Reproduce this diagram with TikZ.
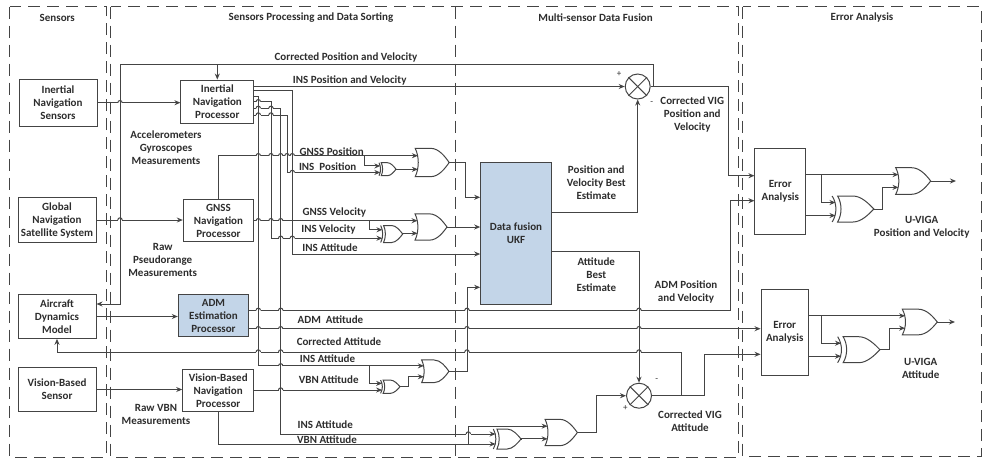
\documentclass[tikz,border=0pt]{standalone}
\usepackage{fontspec}
\setmainfont{Carlito}
\usepackage{xcolor}
\usepackage{tikz}
\usetikzlibrary{arrows.meta}
\definecolor{linegray}{RGB}{68,68,68}
\definecolor{textdark}{RGB}{45,45,45}
\definecolor{fusionblue}{RGB}{195,213,232}
\newcommand{\labelfont}{\fontsize{11}{13}\selectfont\bfseries}
\tikzset{
  panel/.style={draw=linegray, line width=1pt, dash pattern=on 12pt off 7pt},
  wire/.style={draw=linegray, line width=1pt},
  blockbox/.style={draw=linegray, line width=1pt, align=center, text=textdark, font=\labelfont, inner sep=0pt},
  tag/.style={align=center, text=textdark, font=\labelfont, inner sep=0pt},
  sumnode/.style={circle, draw=linegray, line width=1pt, inner sep=0pt, minimum size=25pt},
  orgate/.pic={
    \draw[wire] (-.5,-.5) -- (-.05,-.5) .. controls (.2,-.5) and (.38,-.2) .. (.5,0)
      .. controls (.38,.2) and (.2,.5) .. (-.05,.5) -- (-.5,.5)
      .. controls (-.38,.2) and (-.38,-.2) .. (-.5,-.5) -- cycle;
    \coordinate (-in1) at (-.42,-.24);
    \coordinate (-in2) at (-.42,.24);
    \coordinate (-out) at (.5,0);
  },
  xorgate/.pic={
    \draw[wire] (-.37,-.5) -- (0,-.5) .. controls (.2,-.5) and (.38,-.2) .. (.5,0)
      .. controls (.38,.2) and (.2,.5) .. (0,.5) -- (-.37,.5)
      .. controls (-.26,.2) and (-.26,-.2) .. (-.37,-.5) -- cycle;
    \draw[wire] (-.5,-.5) .. controls (-.38,-.2) and (-.38,.2) .. (-.5,.5);
    \coordinate (-in1) at (-.42,-.25);
    \coordinate (-in2) at (-.42,.25);
    \coordinate (-out) at (.5,0);
  }
}
\begin{document}
\begin{tikzpicture}[>={Stealth[length=6pt,width=5pt]}, x=1pt, y=-1pt]
  \useasboundingbox (0,0) rectangle (982,459);
  % Panels
  \draw[panel] (9.5,6.5) rectangle (106,457);
  \draw[panel] (110.5,6.5) rectangle (738.5,457);
  \draw[panel] (455,6.5) -- (455,457);
  \draw[panel] (742.5,6.5) rectangle (981,456);
  \node[tag] (headsens) at (57.3,17.7) {Sensors};
  \node[tag] (headproc) at (311,17.7) {Sensors Processing and Data Sorting};
  \node[tag] (headfus) at (595.6,17.7) {Multi-sensor Data Fusion};
  \node[tag] (headerr) at (862,17.7) {Error Analysis};
  % Blocks
  \node[blockbox, minimum width=78pt, minimum height=47pt] (inssens) at (58,102.7) {Inertial\\Navigation\\Sensors};
  \node[blockbox, minimum width=78pt, minimum height=45.5pt] (gnsssens) at (57,220) {Global\\Navigation\\Satellite System};
  \node[blockbox, minimum width=78pt, minimum height=43.6pt] (aircraft) at (57,316.5) {Aircraft\\Dynamics\\Model};
  \node[blockbox, minimum width=78pt, minimum height=43.6pt] (vbnsens) at (57,389.5) {Vision-Based\\Sensor};
  \node[blockbox, minimum width=72.7pt, minimum height=43.3pt] (insproc) at (217.3,101.7) {Inertial\\Navigation\\Processor};
  \node[blockbox, minimum width=70.4pt, minimum height=41.6pt] (gnssproc) at (218.5,220.5) {GNSS\\Navigation\\Processor};
  \node[blockbox, fill=fusionblue, minimum width=70.4pt, minimum height=42pt] (admproc) at (213.5,315.7) {ADM\\Estimation\\Processor};
  \node[blockbox, minimum width=71pt, minimum height=41.7pt] (vbnproc) at (218.2,390.2) {Vision-Based\\Navigation\\Processor};
  \node[blockbox, fill=fusionblue, minimum width=70.6pt, minimum height=142.7pt] (ukf) at (516,233.4) {Data fusion\\UKF};
  \node[blockbox, minimum width=50.7pt, minimum height=86.7pt] (errpos) at (780.3,191.4) {Error\\Analysis};
  \node[blockbox, minimum width=47.3pt, minimum height=86.3pt] (erratt) at (784.7,332.2) {Error\\Analysis};
  % Gates
  \pic (orpos) [xscale=34, yscale=28.4] at (432.2,162.5) {orgate};
  \pic (xorpos) [xscale=17, yscale=13] at (387.5,169.2) {xorgate};
  \pic (orvel) [xscale=32, yscale=26.3] at (431,227) {orgate};
  \pic (xorvel) [xscale=22, yscale=17] at (391.7,234) {xorgate};
  \pic (orvbn) [xscale=27.3, yscale=22.7] at (435.3,371.3) {orgate};
  \pic (xorvbn) [xscale=19.4, yscale=13.3] at (390.3,386.7) {xorgate};
  \pic (orlow) [xscale=32.3, yscale=26.4] at (561.2,432.5) {orgate};
  \pic (xorlow) [xscale=27.7, yscale=20] at (507.2,439) {xorgate};
  \pic (orerrpos) [xscale=35, yscale=26.6] at (913.2,181) {orgate};
  \pic (xorerrpos) [xscale=41.7, yscale=26] at (853,209) {xorgate};
  \pic (orerratt) [xscale=35, yscale=25.7] at (919.8,322) {orgate};
  \pic (xorerratt) [xscale=42.3, yscale=26] at (858.8,349.7) {xorgate};
  % Summing points
  \node[sumnode] (sumpos) at (637.7,86.5) {};
  \node[sumnode] (sumatt) at (639,395.7) {};
  \foreach \s in {sumpos,sumatt} {
    \draw[wire] (\s.45) -- (\s.225);
    \draw[wire] (\s.135) -- (\s.315);
  }
  \node[tag, font=\fontsize{9}{10}\selectfont] (pluspos) at (619,74) {+};
  \node[tag, font=\fontsize{9}{10}\selectfont] (minuspos) at (651.7,103) {-};
  \node[tag, font=\fontsize{9}{10}\selectfont] (minusatt) at (656.7,380) {-};
  \node[tag, font=\fontsize{9}{10}\selectfont] (plusatt) at (625.3,408.3) {+};
  % Sensor inputs
  \draw[wire,->] (inssens.east) -- (insproc.west |- inssens.east);
  \draw[wire,->] (gnsssens.east) -- (gnssproc.west |- gnsssens.east);
  \draw[wire,->] (aircraft.east) -- (admproc.west |- aircraft.east);
  \draw[wire,->] (vbnsens.east) -- (vbnproc.west |- vbnsens.east);
  % Corrected position feedback
  \coordinate (fbtop) at (653.3,64.7);
  \coordinate (fbleft) at (120,64.7);
  \draw[wire,->] (sumpos.east -| fbtop) -- (fbtop) -- (fbleft) -- (120,304) -- (aircraft.east |- 0,304);
  \draw[wire,->] (insproc.north |- fbtop) -- (insproc.north);
  \draw[wire,->] (sumpos.east) -| (728.3,175.7) -- (errpos.west |- 0,175.7);
  % Inertial processor outputs
  \draw[wire,->] (insproc.east |- sumpos.west) -- (sumpos.west);
  \draw[wire,->] (insproc.east |- 0,90.7) -| (292.3,254) -- (ukf.west |- 0,254);
  \draw[wire,->] (insproc.east |- 0,96.7) -- (258.3,96.7) |- (orvbn-in1);
  \draw[wire,->] (insproc.east |- 0,101.7) -- (271,101.7) |- (xorvel-in2);
  \draw[wire,->] (insproc.east |- 0,108.3) -- (280.7,108.3) |- (xorlow-in1);
  \draw[wire,->] (insproc.east |- 0,115) -- (287,115) |- (xorpos-in2);
  % GNSS processor outputs
  \draw[wire,->] (gnssproc.north) |- (orpos-in1);
  \draw[wire,->] (364.3,0 |- orpos-in1) |- (xorpos-in1);
  \draw[wire,->] (gnssproc.east |- orvel-in1) -- (orvel-in1);
  \draw[wire,->] (369,0 |- orvel-in1) |- (xorvel-in1);
  % Vision processor outputs
  \draw[wire,->] (vbnproc.east |- xorvbn-in2) -- (xorvbn-in2);
  \draw[wire,->] (369,0 |- orvbn-in1) |- (xorvbn-in1);
  \draw[wire,->] (vbnproc.south) |- (xorlow-in2);
  \draw[wire,->] (468.3,0 |- xorlow-in2) |- (orlow-in1);
  % Gate outputs
  \draw[wire,->] (xorpos-out) -- (orpos-in2 -| xorpos-out) -- (orpos-in2);
  \draw[wire,->] (xorvel-out) -- (orvel-in2 -| xorvel-out) -- (orvel-in2);
  \draw[wire,->] (xorvbn-out) -- (408.7,0 |- xorvbn-out) |- (orvbn-in2);
  \draw[wire,->] (xorlow-out) -- (orlow-in2 -| xorlow-out) -- (orlow-in2);
  \draw[wire,->] (orpos-out) -| (465,197.3) -- (ukf.west |- 0,197.3);
  \draw[wire,->] (orvel-out) -- (ukf.west |- orvel-out);
  \draw[wire,->] (orvbn-out) -| (467,287.3) -- (ukf.west |- 0,287.3);
  \draw[wire,->] (orlow-out) -| (596.7,395.7) -- (sumatt.west);
  % UKF outputs
  \draw[wire,->] (ukf.east |- 0,212.7) -| (sumpos.south);
  \draw[wire,->] (ukf.east |- 0,251.7) -| (sumatt.north);
  % ADM and corrected attitude lines
  \draw[wire,->] (admproc.east |- 0,310.3) -| (730.7,200.7) -- (errpos.west |- 0,200.7);
  \draw[wire,->] (admproc.east |- 0,328.7) -- (erratt.west |- 0,328.7);
  \draw[wire,->] (sumatt.east) -| (704,354.3) -- (erratt.west |- 0,354.3);
  \draw[wire,->] (681,395.7) |- (57,352) -- (57,0 |- aircraft.south);
  % Error analysis, position
  \draw[wire,->] (errpos.east |- orerrpos-in1) -- (orerrpos-in1);
  \draw[wire,->] (821,0 |- orerrpos-in1) |- (xorerrpos-in1);
  \draw[wire,->] (errpos.east |- xorerrpos-in2) -- (xorerrpos-in2);
  \draw[wire,->] (xorerrpos-out) -- (882.7,0 |- xorerrpos-out) |- (orerrpos-in2);
  \coordinate (outpos) at (956,181);
  \draw[wire,->] (orerrpos-out) -- (outpos);
  % Error analysis, attitude
  \draw[wire,->] (erratt.east |- orerratt-in1) -- (orerratt-in1);
  \draw[wire,->] (821,0 |- orerratt-in1) |- (xorerratt-in1);
  \draw[wire,->] (erratt.east |- xorerratt-in2) -- (xorerratt-in2);
  \draw[wire,->] (xorerratt-out) -- (889.7,0 |- xorerratt-out) |- (orerratt-in2);
  \coordinate (outatt) at (955,322);
  \draw[wire,->] (orerratt-out) -- (outatt);
  % Line hops
  \foreach \x/\y in {120/102.7,120/220,258.3/101.7,258.3/108.3,258.3/115,271/108.3,271/115,
      258.3/155.7,271/155.7,280.7/155.7,287/155.7,292.3/155.7,292.3/172.45,
      258.3/220.7,271/220.7,280.7/220.7,280.7/238.25,292.3/238.25,
      258.3/310.3,280.7/310.3,467/310.3,639/310.3,
      258.3/328.7,280.7/328.7,467/328.7,639/328.7,
      258.3/352,280.7/352,467/352,639/352,
      280.7/365.85,280.7/390.03,468.3/434} {
    \draw[white, line width=1.6pt] (\x-2.2,\y) -- (\x+2.2,\y);
    \draw[wire] (\x,\y-2) -- (\x,\y+1.5);
    \draw[wire] (\x-2.2,\y) arc (180:0:2.2pt);
  }
  % Labels
  \node[tag] (lblcorrpos) at (346,57.7) {Corrected Position and Velocity};
  \node[tag] (lblinspv) at (349.7,80.7) {INS Position and Velocity};
  \node[tag] (lblaccel) at (166,147.7) {Accelerometers\\Gyroscopes\\Measurements};
  \node[tag] (lblgnsspos) at (331.7,151.7) {GNSS Position};
  \node[tag] (lblinspos) at (327.7,166.7) {INS\ \ Position};
  \node[tag] (lblgnssvel) at (334.3,212.7) {GNSS Velocity};
  \node[tag] (lblinsvel) at (328.5,229) {INS Velocity};
  \node[tag] (lblinsatt) at (330,247.3) {INS Attitude};
  \node[tag] (lblraw) at (162.7,259.7) {Raw\\Pseudorange\\Measurements};
  \node[tag] (lbladmatt) at (330.5,319.3) {ADM\ \ Attitude};
  \node[tag] (lblcorratt) at (339,341.7) {Corrected Attitude};
  \node[tag] (lblinsatttwo) at (327.5,358.7) {INS Attitude};
  \node[tag] (lblvbnatt) at (328.7,379.3) {VBN Attitude};
  \node[tag] (lblinsattlow) at (325.3,424.7) {INS Attitude};
  \node[tag] (lblvbnattlow) at (327,439.7) {VBN Attitude};
  \node[tag] (lblrawvbn) at (156,414.5) {Raw VBN\\Measurements};
  \node[tag] (lblposbest) at (596.3,182.7) {Position and\\Velocity Best\\Estimate};
  \node[tag] (lblattbest) at (596.3,274.7) {Attitude\\Best\\Estimate};
  \node[tag] (lbladmpos) at (686,291.7) {ADM Position\\and Velocity};
  \node[tag] (lblvigpos) at (692.3,114.7) {Corrected VIG\\Position and\\Velocity};
  \node[tag] (lblvigatt) at (690,421.2) {Corrected VIG\\Attitude};
  \node[tag] (lblupos) at (921.7,227.2) {U-VIGA\\Position and Velocity};
  \node[tag] (lbluatt) at (920.7,368.2) {U-VIGA\\Attitude};
\end{tikzpicture}
\end{document}
